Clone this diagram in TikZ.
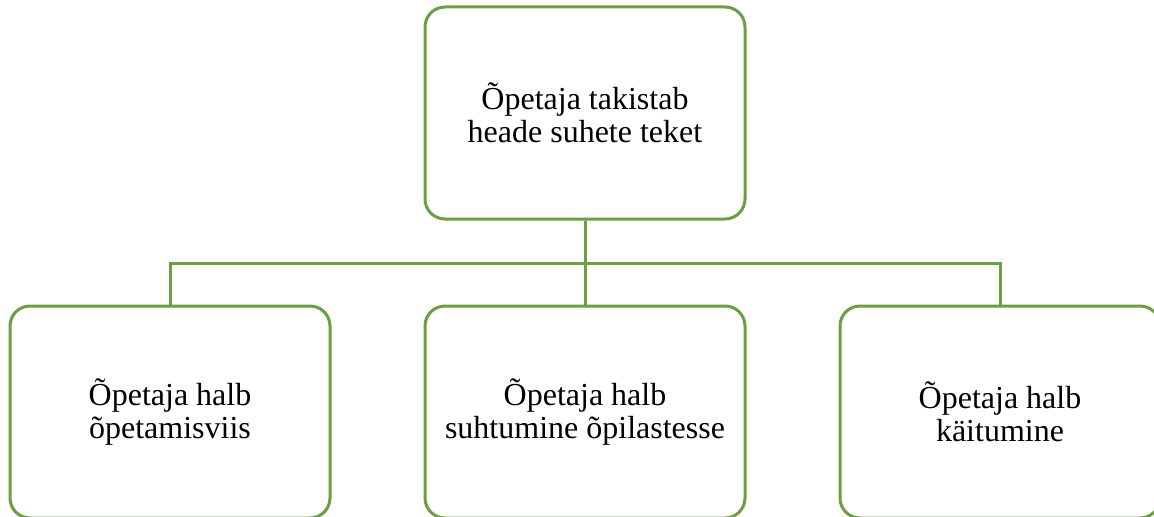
\documentclass[tikz,border=0pt]{standalone}
\usepackage{fontspec}
\setmainfont{Liberation Serif}
\definecolor{boxgreen}{RGB}{106,159,66}
\begin{document}
\begin{tikzpicture}[x=0.75pt,y=-0.75pt,
  card/.style={draw=boxgreen, line width=2.25pt, rounded corners=15pt,
    fill=white, minimum width=240pt, minimum height=159pt, align=center,
    inner sep=0pt, font=\fontsize{24pt}{24.75pt}\selectfont},
  link/.style={draw=boxgreen, line width=2.25pt}]
  \clip (0,0) rectangle (1154,517);
  \fill[white] (0,0) rectangle (1154,517);
  % junction of the tree branches
  \coordinate (bus) at (585,263);
  \node[card] (top) at (585,113) {Õpetaja takistab\\heade suhete teket};
  \node[card] (left) at (170,412) {Õpetaja halb\\õpetamisviis};
  \node[card] (mid) at (585,412) {Õpetaja halb\\suhtumine õpilastesse};
  \node[card] (right) at (1000,412) {Õpetaja halb\\käitumine};
  \draw[link] (top.south) -- (bus);
  \draw[link] (bus) -| (left.north);
  \draw[link] (bus) -| (right.north);
  \draw[link] (bus) -- (mid.north);
\end{tikzpicture}
\end{document}
